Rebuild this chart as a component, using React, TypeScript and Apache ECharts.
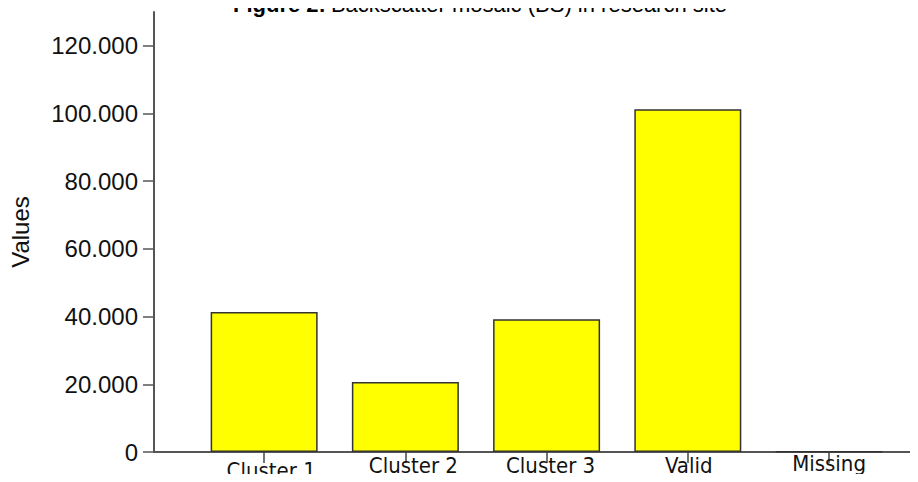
import React, { useEffect, useRef } from "react";
import * as echarts from "echarts";

const categories = ["Cluster 1", "Cluster 2", "Cluster 3", "Valid", "Missing"];
const values = [41400, 20700, 39200, 101300, 150];
const yTicks = [0, 20000, 40000, 60000, 80000, 100000, 120000];
const titleBold = "Figure 2:";
const titleRest = "Backscatter mosaic (BS) in research site";
const yName = "Values";

const fmt = (v: number) =>
  v === 0 ? "0" : String(Math.round(v)).replace(/\B(?=(\d{3})+(?!\d))/g, ".");

const narrow = "'DejaVu Sans Condensed', 'Liberation Sans Narrow', sans-serif";
const lab = { fontFamily: narrow, fontSize: 22, color: "#111" };

export default function App() {
  const ref = useRef<HTMLDivElement>(null);
  useEffect(() => {
    const chart = echarts.init(ref.current!, null, { renderer: "svg" });
    chart.setOption({
      animation: false,
      backgroundColor: "#ffffff",
      title: {
        left: 228,
        top: -12,
        text: `{b|${titleBold}} {n|${titleRest}}`,
        textStyle: {
          fontWeight: "normal",
          rich: {
            b: { fontFamily: "Liberation Sans", fontWeight: "bold", fontSize: 22, color: "#000" },
            n: { fontFamily: "Liberation Sans", fontWeight: "normal", fontSize: 22, color: "#000" },
          },
        },
      },
      grid: { left: 153, right: 0, top: 12, bottom: 30 },
      xAxis: {
        type: "value",
        min: -0.78,
        max: 4.63,
        splitLine: { show: false },
        axisLine: { show: true, onZero: false, lineStyle: { color: "#555", width: 2 } },
        axisTick: {
          show: true,
          length: 11,
          customValues: [0, 1, 2, 3, 4],
          lineStyle: { color: "#444", width: 1.5 },
        },
        axisLabel: {
          margin: 1,
          customValues: [0, 1, 2, 3, 4],
          formatter: (v: number) => `{c${Math.round(v)}|${categories[Math.round(v)]}}`,
          rich: {
            c0: { ...lab, padding: [6, 0, 0, 14] },
            c1: { ...lab, padding: [1, 0, 0, 16] },
            c2: { ...lab, padding: [1, 0, 0, 8] },
            c3: { ...lab, padding: [1, 0, 0, 2] },
            c4: { ...lab, padding: [-1, 0, 0, 0] },
          },
        },
      },
      yAxis: {
        type: "value",
        min: 0,
        max: 130000,
        name: yName,
        nameLocation: "middle",
        nameGap: 122,
        nameTextStyle: { fontFamily: "Liberation Sans", fontSize: 24, color: "#111" },
        splitLine: { show: false },
        axisLine: { show: true, onZero: false, lineStyle: { color: "#555", width: 2 } },
        axisTick: {
          show: true,
          length: 11,
          customValues: yTicks,
          lineStyle: { color: "#555", width: 1.5 },
        },
        axisLabel: {
          margin: 16,
          customValues: yTicks,
          formatter: (v: number) => fmt(v),
          fontFamily: "Liberation Sans",
          fontSize: 24,
          color: "#111",
        },
      },
      series: [
        {
          type: "bar",
          barWidth: 107,
          data: values.map((v, i) => [i, v]),
          itemStyle: { color: "#ffff00", borderColor: "#333", borderWidth: 1.5 },
        },
      ],
    });
    return () => chart.dispose();
  }, []);
  return <div ref={ref} style={{ width: 918, height: 482, margin: -8 }} />;
}
